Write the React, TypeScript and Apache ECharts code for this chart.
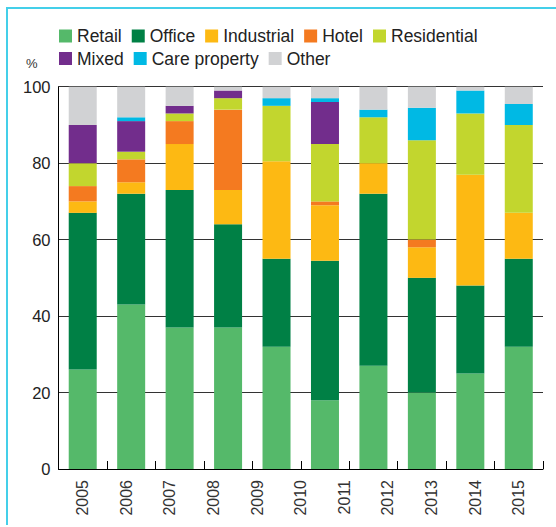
import React, { useEffect, useRef } from "react";
import * as echarts from "echarts";

const barSlots = ["b1", "b2", "b3", "b4", "b5", "b6", "b7", "b8", "b9", "b10"];
const yearLabels = [2005, 2006, 2007, 2008, 2009, 2010, 2011, 2012, 2013, 2014, 2015];

const retail = [26, 43, 37, 37, 32, 18, 27, 20, 25, 32];
const office = [41, 29, 36, 27, 23, 36.5, 45, 30, 23, 23];
const industrial = [3, 3, 12, 9, 25.5, 14.5, 8, 8, 29, 12];
const hotel = [4, 6, 6, 21, 0, 1, 0, 2, 0, 0];
const residential = [6, 2, 2, 3, 14.5, 15, 12, 26, 16, 23];
const mixed = [10, 8, 2, 2, 0, 11, 0, 0, 0, 0];
const care = [0, 1, 0, 0, 2, 1, 2, 8.5, 6, 5.5];
const other = [10, 8, 5, 1, 3, 3, 6, 5.5, 1, 4.5];

const seriesNames = ["Retail", "Office", "Industrial", "Hotel", "Residential", "Mixed", "Care property", "Other"];
const seriesData = [retail, office, industrial, hotel, residential, mixed, care, other];
const seriesColors = ["#55b96a", "#008045", "#fdb913", "#f47a20", "#c2d62e", "#722d8c", "#00b9e4", "#d1d2d4"];

const FONT = "'Liberation Sans', Arial, sans-serif";

export default function App() {
  const ref = useRef<HTMLDivElement>(null);
  useEffect(() => {
    if (!ref.current) return;
    const chart = echarts.init(ref.current, null, { renderer: "svg" });
    const legendText = { fontSize: 17.5, color: "#222", fontFamily: FONT };
    chart.setOption({
      animation: false,
      backgroundColor: "#fff",
      textStyle: { fontFamily: FONT },
      legend: [
        {
          data: seriesNames.slice(0, 5),
          left: 59,
          top: 27,
          padding: 0,
          itemWidth: 13,
          itemHeight: 13,
          itemGap: 10,
          icon: "rect",
          textStyle: legendText,
        },
        {
          data: seriesNames.slice(5),
          left: 59,
          top: 49.5,
          padding: 0,
          itemWidth: 13,
          itemHeight: 13,
          itemGap: 10,
          icon: "rect",
          textStyle: legendText,
        },
      ],
      grid: { left: 58.5, right: 13, top: 86.7, bottom: 58, containLabel: false },
      xAxis: [
        {
          type: "category",
          data: barSlots,
          axisLine: { show: true, lineStyle: { color: "#000", width: 1 } },
          axisTick: { show: true, inside: true, length: 8, lineStyle: { color: "#000" } },
          axisLabel: { show: false },
          splitLine: { show: false },
        },
        {
          type: "value",
          position: "bottom",
          min: 2005 - 5 / 9,
          max: 2015 + 5 / 9,
          axisLine: { show: false },
          axisTick: { show: false },
          splitLine: { show: false },
          axisLabel: {
            customValues: yearLabels,
            rotate: 90,
            margin: 11,
            fontSize: 16,
            color: "#333",
            fontFamily: FONT,
            formatter: (v: number) => String(Math.round(v)),
          },
        },
      ],
      yAxis: {
        type: "value",
        min: 0,
        max: 100,
        interval: 20,
        axisLine: { show: true, lineStyle: { color: "#000", width: 1 } },
        axisTick: { show: false },
        axisLabel: { fontSize: 16.5, color: "#222", margin: 8, fontFamily: FONT },
        splitLine: { show: true, lineStyle: { color: "#333", width: 1.2 } },
      },
      graphic: [
        {
          type: "text",
          left: 26,
          top: 57,
          style: { text: "%", fontSize: 13, fill: "#333", fontFamily: FONT },
        },
        {
          type: "polyline",
          shape: { points: [[7, 525], [7, 8], [560, 8]] },
          style: { stroke: "#44cfe9", lineWidth: 2, fill: "none" },
          silent: true,
        },
      ],
      series: seriesNames.map((name, i) => ({
        name,
        type: "bar",
        stack: "total",
        barWidth: 28,
        xAxisIndex: 0,
        data: seriesData[i],
        itemStyle: { color: seriesColors[i] },
      })),
    });
    return () => chart.dispose();
  }, []);
  return <div ref={ref} style={{ position: "absolute", left: 0, top: 0, width: 556, height: 527 }} />;
}
